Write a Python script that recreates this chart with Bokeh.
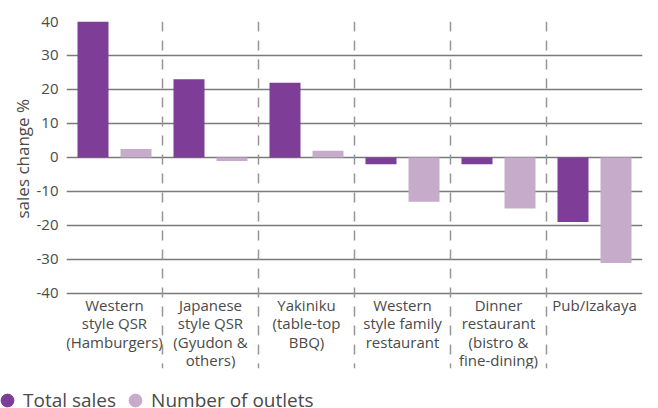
from bokeh.plotting import figure
from bokeh.layouts import column
from bokeh.models import (ColumnDataSource, FactorRange, Range1d, FixedTicker, Span,
                          Legend, LegendItem, Title, PrintfTickFormatter)
from bokeh.transform import dodge
from bokeh.core.properties import value
from bokeh.embed import file_html
from bokeh.resources import INLINE

categories = ["Western style QSR (Hamburgers)", "Japanese style QSR (Gyudon & others)",
              "Yakiniku (table-top BBQ)", "Western style family restaurant",
              "Dinner restaurant (bistro & fine-dining)", "Pub/Izakaya"]
cat_labels = ["Western\nstyle QSR\n(Hamburgers)", "Japanese\nstyle QSR\n(Gyudon &\nothers)",
              "Yakiniku\n(table-top\nBBQ)", "Western\nstyle family\nrestaurant",
              "Dinner\nrestaurant\n(bistro &\nfine-dining)", "Pub/Izakaya"]
total_sales = [40, 23, 22, -2, -2, -19]
num_outlets = [2.5, -1, 2, -13, -15, -31]
y_ticks = [-40, -30, -20, -10, 0, 10, 20, 30, 40]
series_names = ["Total sales", "Number of outlets"]

FONT = "Open Sans"
TXT = "#4a4a4a"
C_TOTAL = "#7e3d96"
C_OUT = "#c6abca"

src = ColumnDataSource(dict(cat=categories, lab=cat_labels, total=total_sales, outlets=num_outlets,
                            ly=[-40.5] * len(categories)))

p = figure(width=658, height=385, output_backend="svg", toolbar_location=None,
           x_range=FactorRange(factors=categories, range_padding=0),
           y_range=Range1d(-62.06, 40), x_axis_location=None,
           min_border_left=66, min_border_right=16, min_border_top=21, min_border_bottom=17)
p.frame_align = False
p.outline_line_color = None
p.background_fill_color = "white"
p.border_fill_color = "white"

p.vbar(x=dodge("cat", -0.224, range=p.x_range), top="total", width=0.323, bottom=0,
       source=src, color=C_TOTAL, line_color=None)
p.vbar(x=dodge("cat", 0.224, range=p.x_range), top="outlets", width=0.323, bottom=0,
       source=src, color=C_OUT, line_color=None)

for i in range(1, len(categories)):
    p.add_layout(Span(location=i, dimension="height", line_color="#969696",
                      line_width=1.5, line_dash="10 9"))

p.text(x="cat", y="ly", text="lab", source=src, text_align="center", text_baseline="top",
       text_font=value(FONT), text_font_size="15px", text_color=TXT, text_line_height=0.91)

ax = p.yaxis[0]
ax.ticker = FixedTicker(ticks=y_ticks)
ax.formatter = PrintfTickFormatter(format="%d")
ax.axis_line_color = None
ax.major_tick_line_color = None
ax.minor_tick_line_color = None
ax.major_tick_out = 0
ax.major_tick_in = 0
ax.major_label_standoff = 8
ax.major_label_text_font = FONT
ax.major_label_text_font_size = "15px"
ax.major_label_text_color = TXT

p.xgrid.visible = False
p.ygrid.grid_line_color = "#7a7a7a"
p.ygrid.grid_line_width = 1.4

p.add_layout(Title(text="sales change %", align="left", offset=150, vertical_align="bottom",
                   text_font=FONT, text_font_size="17px", text_color=TXT,
                   text_font_style="normal", standoff=0), "left")

# legend strip
q = figure(width=658, height=23, output_backend="svg", toolbar_location=None,
           x_range=Range1d(0, 658), y_range=Range1d(0, 23),
           x_axis_location=None, y_axis_location=None, min_border=0)
q.frame_align = False
q.outline_line_color = None
q.xgrid.visible = False
q.ygrid.visible = False
r1 = q.scatter(x=[-100], y=[-100], color=C_TOTAL, marker="circle")
r2 = q.scatter(x=[-100], y=[-100], color=C_OUT, marker="circle")
legend = Legend(items=[LegendItem(label=series_names[0], renderers=[r1]),
                       LegendItem(label=series_names[1], renderers=[r2])],
                orientation="horizontal", location=(-9, -8), padding=0, margin=0,
                glyph_width=32, glyph_height=32, label_standoff=0, spacing=3,
                label_text_font=FONT, label_text_font_size="19px", label_text_color=TXT,
                border_line_color=None, background_fill_alpha=0)
q.add_layout(legend, "center")

open("out.html", "w").write(file_html(column(p, q, spacing=0), INLINE))
